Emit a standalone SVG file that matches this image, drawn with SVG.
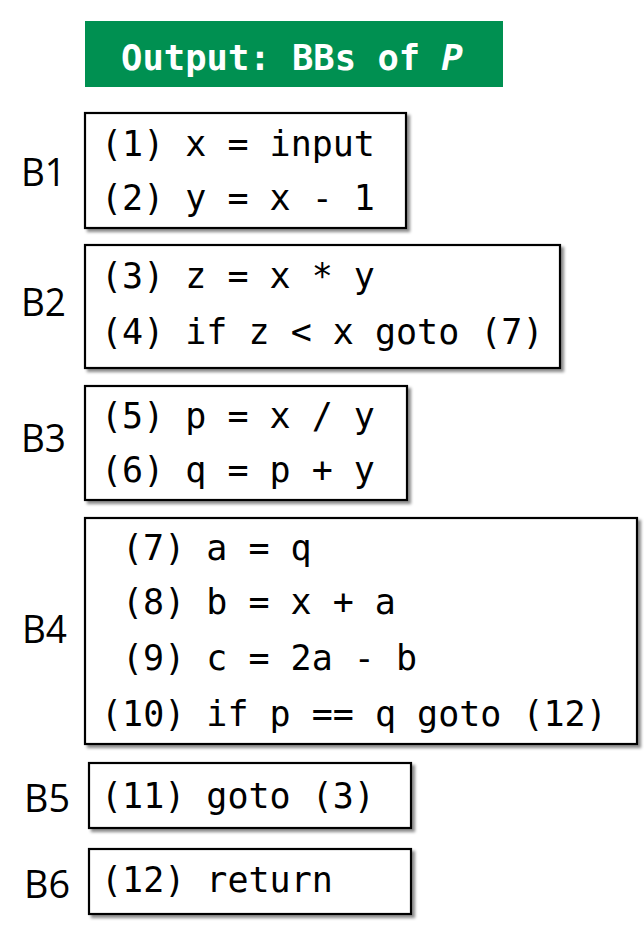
<svg xmlns="http://www.w3.org/2000/svg" width="644" height="944" viewBox="0 0 644 944">
<defs>
<filter id="sh" x="-5%" y="-5%" width="115%" height="120%">
<feDropShadow dx="3" dy="3" stdDeviation="1.5" flood-color="#000" flood-opacity="0.45"/>
</filter>
</defs>
<style>
.box{fill:#fff;stroke:#000;stroke-width:2.2;filter:url(#sh)}
.code{font-family:"DejaVu Sans Mono","Liberation Mono",monospace;font-size:35px;fill:#000;white-space:pre}
.lbl{font-family:"Open Sans","Noto Sans",sans-serif;font-size:39px;fill:#000}
.title{font-family:"DejaVu Sans Mono","Liberation Mono",monospace;font-size:35.5px;font-weight:bold;fill:#fff;white-space:pre}
</style>
<rect width="644" height="944" fill="#fff"/>
<g id="title">
<rect x="85" y="21" width="418" height="66" fill="#009051"/>
<text class="title" x="292" y="70" text-anchor="middle" xml:space="preserve">Output: BBs of <tspan font-style="italic">P</tspan></text>
</g>
<g id="B1">
<rect class="box" x="85" y="113" width="321" height="115"/>
<text class="lbl" x="21" y="186" textLength="45" lengthAdjust="spacingAndGlyphs">B1</text>
<text class="code" x="101" y="156" xml:space="preserve">(1) x = input</text>
<text class="code" x="101" y="210" xml:space="preserve">(2) y = x - 1</text>
</g>
<g id="B2">
<rect class="box" x="85" y="245" width="475" height="123"/>
<text class="lbl" x="21" y="316" textLength="45" lengthAdjust="spacingAndGlyphs">B2</text>
<text class="code" x="101" y="288" xml:space="preserve">(3) z = x * y</text>
<text class="code" x="101" y="344" xml:space="preserve">(4) if z &lt; x goto (7)</text>
</g>
<g id="B3">
<rect class="box" x="85" y="386" width="322" height="114"/>
<text class="lbl" x="21" y="452" textLength="45" lengthAdjust="spacingAndGlyphs">B3</text>
<text class="code" x="101" y="428" xml:space="preserve">(5) p = x / y</text>
<text class="code" x="101" y="482" xml:space="preserve">(6) q = p + y</text>
</g>
<g id="B4">
<rect class="box" x="85" y="518" width="552" height="226"/>
<text class="lbl" x="22" y="643" textLength="45" lengthAdjust="spacingAndGlyphs">B4</text>
<text class="code" x="122" y="560" xml:space="preserve">(7) a = q</text>
<text class="code" x="122" y="614" xml:space="preserve">(8) b = x + a</text>
<text class="code" x="122" y="670" xml:space="preserve">(9) c = 2a - b</text>
<text class="code" x="101" y="726" xml:space="preserve">(10) if p == q goto (12)</text>
</g>
<g id="B5">
<rect class="box" x="89" y="763" width="322" height="65"/>
<text class="lbl" x="24" y="812" textLength="46" lengthAdjust="spacingAndGlyphs">B5</text>
<text class="code" x="101" y="808" xml:space="preserve">(11) goto (3)</text>
</g>
<g id="B6">
<rect class="box" x="89" y="849" width="322" height="65"/>
<text class="lbl" x="24" y="898" textLength="46" lengthAdjust="spacingAndGlyphs">B6</text>
<text class="code" x="101" y="892" xml:space="preserve">(12) return</text>
</g>
<g id="connectors"/>
</svg>
